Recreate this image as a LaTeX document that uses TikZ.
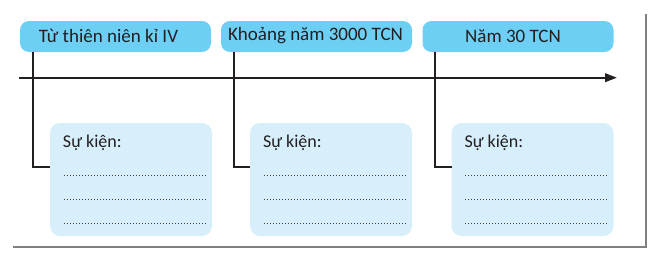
\documentclass[tikz,border=0pt]{standalone}
\usepackage{fontspec}
\setmainfont{Carlito}
\usetikzlibrary{arrows.meta,calc}
\definecolor{hdr}{HTML}{6DCFF4}
\definecolor{evt}{HTML}{D6EFFA}
\definecolor{ink}{HTML}{231F20}
\definecolor{shad}{HTML}{808080}
\tikzset{
  header/.style={fill=hdr, rounded corners=9pt, minimum width=191pt, minimum height=31pt, inner sep=0pt},
  headtext/.style={text=ink, inner sep=0pt, font=\fontsize{19}{21}\selectfont},
  evtbox/.style={fill=evt, rounded corners=10pt, minimum width=162pt, minimum height=113pt, inner sep=0pt},
  evtlabel/.style={anchor=base west, text=ink, font=\fontsize{18}{20}\selectfont, inner sep=0pt},
  conn/.style={draw=ink, line width=2pt},
  axis/.style={draw=ink, line width=2.4pt, -{Triangle[length=12pt,width=8.5pt]}},
  dots/.style={draw=ink!85, line width=1pt, dash pattern=on 1pt off 2pt},
  shadowline/.style={draw=shad, line width=2pt}
}
\begin{document}
\begin{tikzpicture}[x=1pt,y=-1pt]
\useasboundingbox (0,0) rectangle (657,257);
% frame shadow
\coordinate (s1) at (646,14);
\coordinate (s2) at (646,246.5);
\coordinate (s3) at (13,246.5);
\draw[shadowline] (s1) -- (s2) -- (s3);
% headers
\node[header] (h1) at (115.5,36.5) {};
\node[header] (h2) at (316.5,36.5) {};
\node[header] (h3) at (518,36.5) {};
\node[headtext] (t1) at ($(h1.center)+(-7,-0.5)$) {Từ thiên niên kỉ IV};
\node[headtext] (t2) at ($(h2.center)+(-1,-0.5)$) {Khoảng năm 3000 TCN};
\node[headtext] (t3) at ($(h3.center)+(-5,-0.5)$) {Năm 30 TCN};
% event boxes
\node[evtbox] (b1) at (131,179.5) {};
\node[evtbox] (b2) at (331,179.5) {};
\node[evtbox] (b3) at (532.5,179.5) {};
% axis
\coordinate (a0) at (19,77.7);
\coordinate (a1) at (617,77.7);
\draw[axis] (a0) -- (a1);
% connectors
\foreach \i in {1,2,3}{
  \draw[conn] ($(h\i.south west)+(13,-0.5)$) |- ($(b\i.north west)+(0.5,44)$);
}
% labels and dotted lines
\foreach \i in {1,2,3}{
  \node[evtlabel] (l\i) at ($(b\i.north west)+(13,25)$) {Sự kiện:};
  \foreach \k/\yy in {1/53,2/77,3/101}{
    \coordinate (d\i\k a) at ($(b\i.north west)+(14,\yy)$);
    \coordinate (d\i\k b) at ($(b\i.north east)+(-6,\yy)$);
    \draw[dots] (d\i\k a) -- (d\i\k b);
  }
}
\end{tikzpicture}
\end{document}
